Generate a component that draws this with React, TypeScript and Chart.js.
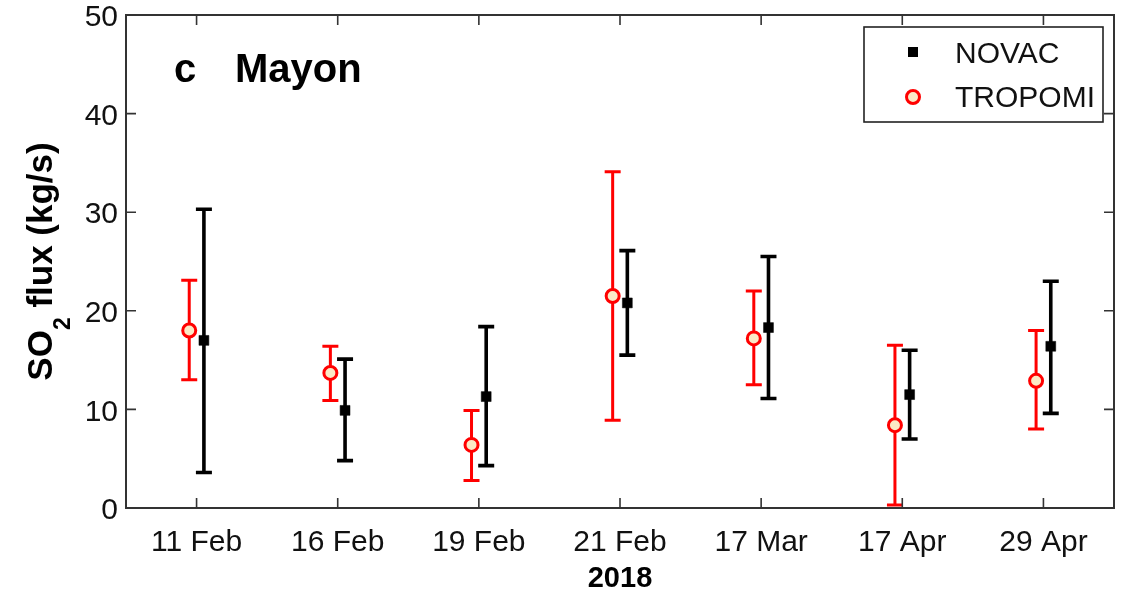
import React, { useEffect, useRef } from "react";
import { Chart, registerables } from "chart.js";

Chart.register(...registerables);

const categories = ["11 Feb", "16 Feb", "19 Feb", "21 Feb", "17 Mar", "17 Apr", "29 Apr"];
const tropomiValues = [18.0, 13.7, 6.4, 21.5, 17.2, 8.4, 12.9];
const tropomiLow = [13.0, 10.9, 2.8, 8.9, 12.5, 0.3, 8.0];
const tropomiHigh = [23.1, 16.4, 9.9, 34.1, 22.0, 16.5, 18.0];
const novacValues = [17.0, 9.9, 11.3, 20.8, 18.3, 11.5, 16.4];
const novacLow = [3.6, 4.8, 4.3, 15.5, 11.1, 7.0, 9.6];
const novacHigh = [30.3, 15.1, 18.4, 26.1, 25.5, 16.0, 23.0];
const yTicks = [0, 10, 20, 30, 40, 50];
const seriesNames = ["NOVAC", "TROPOMI"];
const xTitle = "2018";
const panelLetter = "c";
const panelName = "Mayon";

const FONT = "'Liberation Sans', Arial, sans-serif";
const RED = "#ff0000";
const CREAM = "#fbe9c6";
const OFFSET = 0.052;

const errorBarPlugin = {
  id: "errorBars",
  beforeDatasetsDraw(chart: any) {
    const ctx = chart.ctx;
    const yScale = chart.scales.y;
    chart.data.datasets.forEach((ds: any, d: number) => {
      const meta = chart.getDatasetMeta(d);
      ctx.save();
      ctx.strokeStyle = ds.barColor;
      ctx.lineWidth = ds.barWidth;
      ctx.lineCap = "butt";
      meta.data.forEach((pt: any, j: number) => {
        const x = pt.x;
        const yl = yScale.getPixelForValue(ds.lows[j]);
        const yh = yScale.getPixelForValue(ds.highs[j]);
        const cw = 8;
        ctx.beginPath();
        ctx.moveTo(x, yl);
        ctx.lineTo(x, yh);
        ctx.moveTo(x - cw, yl);
        ctx.lineTo(x + cw, yl);
        ctx.moveTo(x - cw, yh);
        ctx.lineTo(x + cw, yh);
        ctx.stroke();
      });
      ctx.restore();
    });
  },
};

const framePlugin = {
  id: "frame",
  afterDraw(chart: any) {
    const ctx = chart.ctx;
    const { left, right, top, bottom } = chart.chartArea;
    const xs = chart.scales.x;
    const ys = chart.scales.y;
    ctx.save();
    // box
    ctx.strokeStyle = "#333";
    ctx.lineWidth = 2;
    ctx.strokeRect(left, top, right - left, bottom - top);
    // ticks inward
    ctx.lineWidth = 1.6;
    const tl = 10;
    ctx.beginPath();
    categories.forEach((_, i) => {
      const x = xs.getPixelForValue(i);
      ctx.moveTo(x, bottom);
      ctx.lineTo(x, bottom - tl);
      ctx.moveTo(x, top);
      ctx.lineTo(x, top + tl);
    });
    yTicks.forEach((v) => {
      const y = ys.getPixelForValue(v);
      ctx.moveTo(left, y);
      ctx.lineTo(left + tl, y);
      ctx.moveTo(right, y);
      ctx.lineTo(right - tl, y);
    });
    ctx.stroke();

    // panel title
    ctx.fillStyle = "#000";
    ctx.font = `bold 40px ${FONT}`;
    ctx.textBaseline = "alphabetic";
    ctx.textAlign = "left";
    ctx.fillText(panelLetter, 174, 81.5);
    ctx.fillText(panelName, 235, 81.5);

    // legend
    const lx = right - 250;
    const ly = top + 12;
    ctx.fillStyle = "#fff";
    ctx.fillRect(lx, ly, 239, 95);
    ctx.strokeStyle = "#222";
    ctx.lineWidth = 1.6;
    ctx.strokeRect(lx, ly, 239, 95);
    ctx.fillStyle = "#000";
    ctx.fillRect(lx + 44, ly + 20, 10, 10);
    ctx.beginPath();
    ctx.arc(lx + 49, ly + 70, 6.5, 0, Math.PI * 2);
    ctx.fillStyle = CREAM;
    ctx.fill();
    ctx.strokeStyle = RED;
    ctx.lineWidth = 3;
    ctx.stroke();
    ctx.fillStyle = "#111";
    ctx.font = `30px ${FONT}`;
    ctx.textBaseline = "middle";
    ctx.fillText(seriesNames[0], lx + 91, ly + 28);
    ctx.fillText(seriesNames[1], lx + 91, ly + 72);

    // x title
    ctx.font = `bold 29px ${FONT}`;
    ctx.textAlign = "center";
    ctx.textBaseline = "alphabetic";
    ctx.fillStyle = "#000";
    ctx.fillText(xTitle, (left + right) / 2, 587);

    // y title with subscript
    ctx.save();
    ctx.translate(52, (top + bottom) / 2);
    ctx.rotate(-Math.PI / 2);
    ctx.textAlign = "left";
    const mainFont = `bold 35px ${FONT}`;
    const subFont = `bold 23px ${FONT}`;
    ctx.font = mainFont;
    const w1 = ctx.measureText("SO").width;
    const w3 = ctx.measureText(" flux (kg/s)").width;
    ctx.font = subFont;
    const w2 = ctx.measureText("2").width;
    const start = -(w1 + w2 + w3) / 2;
    ctx.font = mainFont;
    ctx.fillText("SO", start, 0);
    ctx.font = subFont;
    ctx.fillText("2", start + w1, 18);
    ctx.font = mainFont;
    ctx.fillText(" flux (kg/s)", start + w1 + w2, 0);
    ctx.restore();

    ctx.restore();
  },
};

export default function App() {
  const ref = useRef<HTMLCanvasElement | null>(null);
  useEffect(() => {
    if (!ref.current) return;
    const chart = new Chart(ref.current, {
      type: "scatter",
      data: {
        datasets: [
          {
            label: seriesNames[1],
            data: tropomiValues.map((v, i) => ({ x: i - OFFSET, y: v })),
            lows: tropomiLow,
            highs: tropomiHigh,
            barColor: RED,
            barWidth: 3,
            pointStyle: "circle",
            pointRadius: 6.5,
            pointBorderWidth: 3,
            pointBackgroundColor: CREAM,
            pointBorderColor: RED,
          } as any,
          {
            label: seriesNames[0],
            data: novacValues.map((v, i) => ({ x: i + OFFSET, y: v })),
            lows: novacLow,
            highs: novacHigh,
            barColor: "#000",
            barWidth: 3.6,
            pointStyle: "rect",
            pointRadius: 7,
            pointBorderWidth: 0.5,
            pointBackgroundColor: "#000",
            pointBorderColor: "#000",
          } as any,
        ],
      },
      options: {
        responsive: false,
        animation: false,
        layout: { padding: { left: 0, top: 15, right: 26, bottom: 0 } },
        plugins: {
          legend: { display: false },
          tooltip: { enabled: false },
          title: { display: false },
        },
        scales: {
          x: {
            type: "linear",
            min: -0.5,
            max: 6.5,
            grid: { display: false, drawTicks: false },
            border: { display: false },
            afterBuildTicks: (s: any) => {
              s.ticks = categories.map((_, i) => ({ value: i }));
            },
            afterFit: (s: any) => {
              s.height = 91;
              s.paddingLeft = 0;
              s.paddingRight = 0;
            },
            ticks: {
              autoSkip: false,
              maxRotation: 0,
              padding: 17,
              color: "#111",
              font: { family: FONT, size: 30 },
              callback: (v: any) => categories[Math.round(v)] ?? "",
            },
          },
          y: {
            min: 0,
            max: 50,
            grid: { display: false, drawTicks: false },
            border: { display: false },
            afterBuildTicks: (s: any) => {
              s.ticks = yTicks.map((v) => ({ value: v }));
            },
            afterFit: (s: any) => {
              s.width = 126;
              s.paddingTop = 0;
              s.paddingBottom = 0;
            },
            ticks: {
              padding: 8,
              labelOffset: 3,
              color: "#111",
              font: { family: FONT, size: 30 },
            },
          },
        },
      } as any,
      plugins: [errorBarPlugin, framePlugin],
    });
    return () => chart.destroy();
  }, []);
  return (
    <div style={{ position: "absolute", left: 0, top: 0, width: 1140, height: 599, background: "#fff" }}>
      <canvas ref={ref} width={1140} height={599} />
    </div>
  );
}
